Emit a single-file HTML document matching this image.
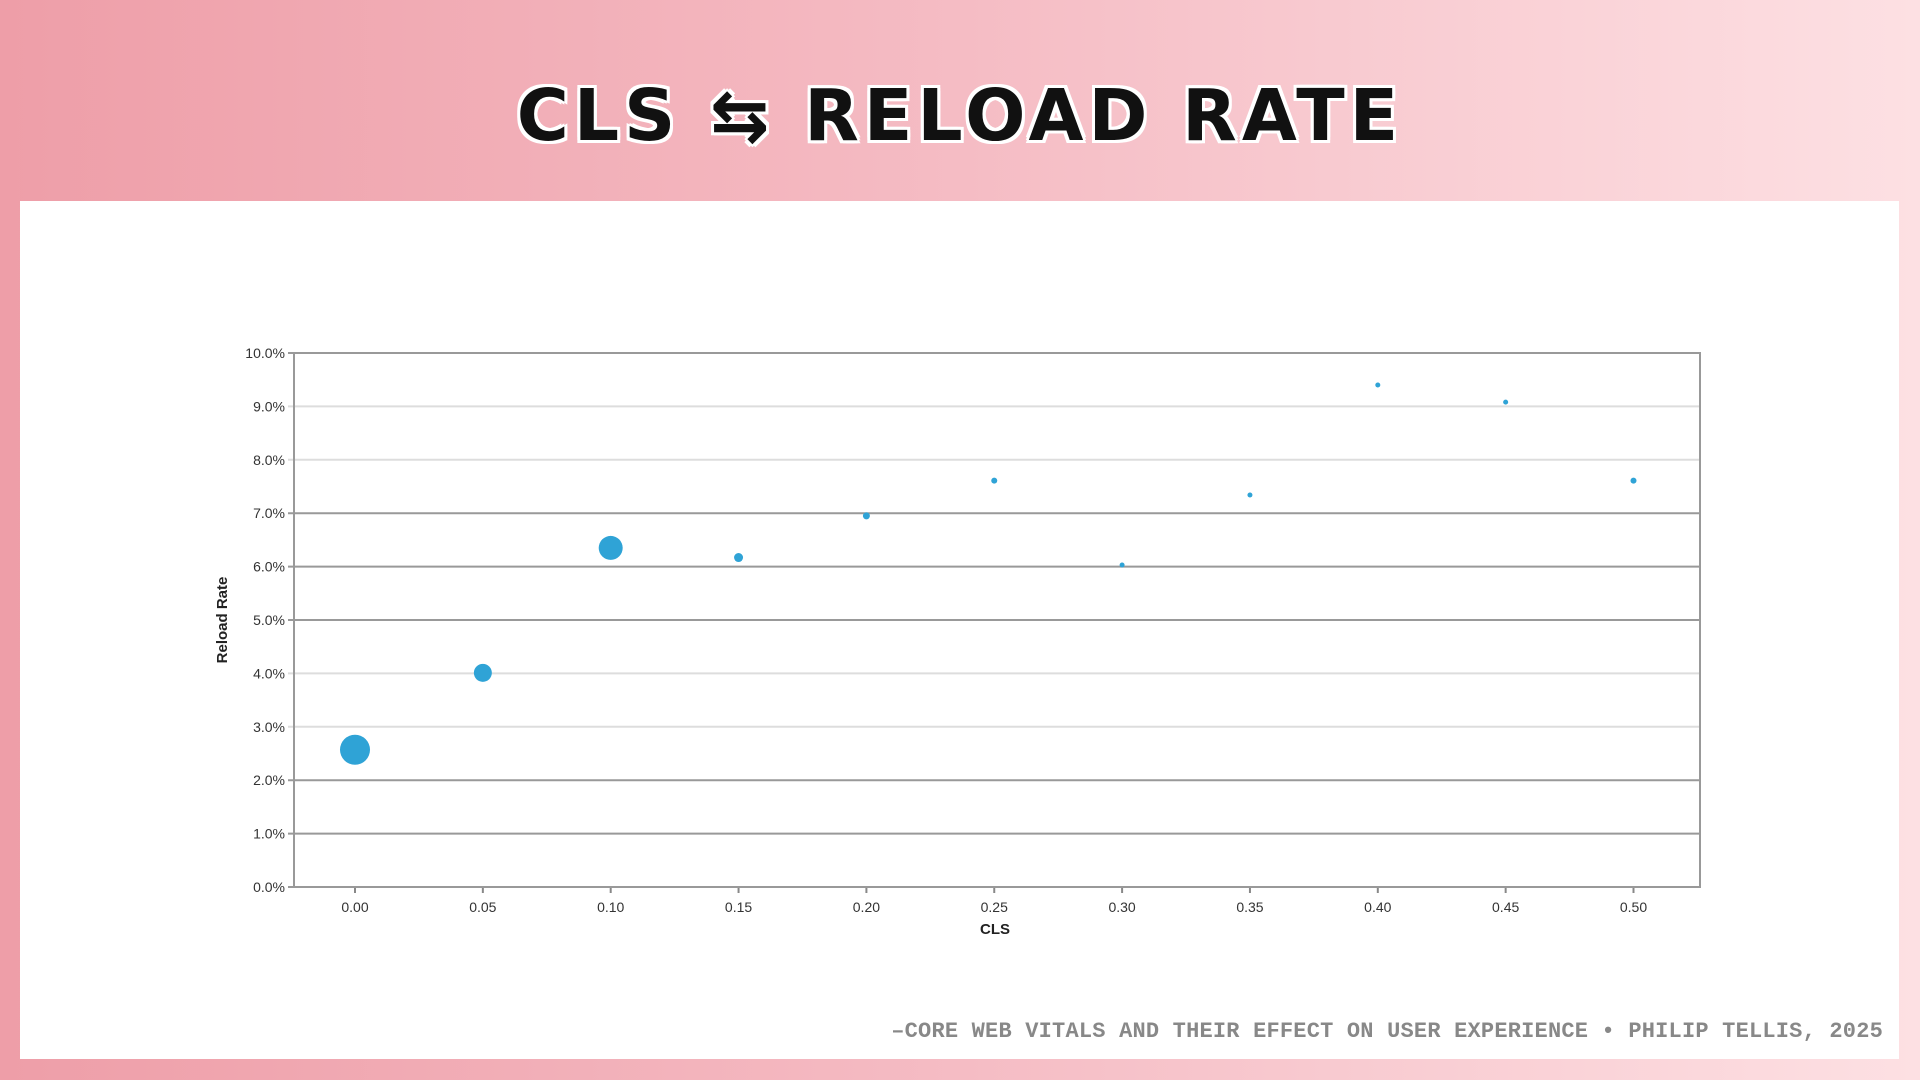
<!DOCTYPE html>
<html><head><meta charset="utf-8"><style>
body{margin:0;width:1920px;height:1080px;overflow:hidden;background:linear-gradient(90deg,#ee9ea8 0%,#f5bcc4 50%,#fde0e3 100%);font-family:"Liberation Sans",sans-serif;position:relative}
#title{position:absolute;left:0;width:1920px;top:74px;text-align:center;font:900 71px "DejaVu Sans","Liberation Sans",sans-serif;letter-spacing:5px;color:#111;text-shadow:-3px -3px 0 #fff,3px -3px 0 #fff,-3px 3px 0 #fff,3px 3px 0 #fff,0 3px 0 #fff,0 -3px 0 #fff,3px 0 0 #fff,-3px 0 0 #fff}
#panel{position:absolute;left:20px;top:201px;width:1879px;height:858px;background:#fff}
#foot{position:absolute;right:37px;top:1019px;font:bold 22px "Liberation Mono",monospace;color:#888;letter-spacing:0.2px}
</style></head><body>
<div id="title">CLS ⇆ RELOAD RATE</div>
<div id="panel"></div>
<svg id="chart" width="1920" height="1080" style="position:absolute;left:0;top:0"></svg>
<div id="foot">–CORE WEB VITALS AND THEIR EFFECT ON USER EXPERIENCE • PHILIP TELLIS, 2025</div>
<script>
const cls=[0,0.05,0.10,0.15,0.20,0.25,0.30,0.35,0.40,0.45,0.50];
const reload=[2.57,4.01,6.35,6.17,6.95,7.61,6.03,7.34,9.40,9.08,7.61];
const sizes=[15,9,12,4.5,3.5,3,2.5,2.5,2.5,2.5,3];
const yTicks=[0,1,2,3,4,5,6,7,8,9,10];
const xTicks=[0,0.05,0.10,0.15,0.20,0.25,0.30,0.35,0.40,0.45,0.50];
const L=294,R=1700,T=353,B=887;
const X=v=>355+v/0.5*(1633.5-355);
const Y=v=>B-v/10*(B-T);
const svg=document.getElementById('chart');
const NS='http://www.w3.org/2000/svg';
function mk(t,a){const e=document.createElementNS(NS,t);for(const k in a)e.setAttribute(k,a[k]);svg.appendChild(e);return e;}
const dark=[0,1,2,5,6,7,10];
yTicks.forEach(v=>{
  const g=mk('line',{x1:L-6,x2:R,y1:Y(v),y2:Y(v),stroke:dark.includes(v)?'#999':'#ddd','stroke-width':2});
  
  
  const t=mk('text',{x:L-9,y:Y(v)+5,'text-anchor':'end','font-size':14,fill:'#333','font-family':'Liberation Sans'});
  t.textContent=v.toFixed(1)+'%';
  
  
});
xTicks.forEach(v=>{
  const l=mk('line',{x1:X(v),x2:X(v),y1:B,y2:B+6,stroke:'#888','stroke-width':2});
  
  
  const t=mk('text',{x:X(v),y:B+25,'text-anchor':'middle','font-size':14,fill:'#333','font-family':'Liberation Sans'});
  t.textContent=v.toFixed(2);
  
  
});
const fr=mk('rect',{x:L,y:T,width:R-L,height:B-T,fill:'none',stroke:'#999','stroke-width':2});


cls.forEach((c,i)=>{
  const p=mk('circle',{cx:X(c),cy:Y(reload[i]),r:sizes[i],fill:'#2fa3d6'});
  
  
});
const xt=mk('text',{x:995,y:934,'text-anchor':'middle','font-size':15,'font-weight':'bold',fill:'#222','font-family':'Liberation Sans'});
xt.textContent='CLS';


const yt=mk('text',{x:0,y:0,'text-anchor':'middle','font-size':15,'font-weight':'bold',fill:'#222','font-family':'Liberation Sans',transform:'translate(227,620) rotate(-90)'});
yt.textContent='Reload Rate';


</script>
</body></html>
